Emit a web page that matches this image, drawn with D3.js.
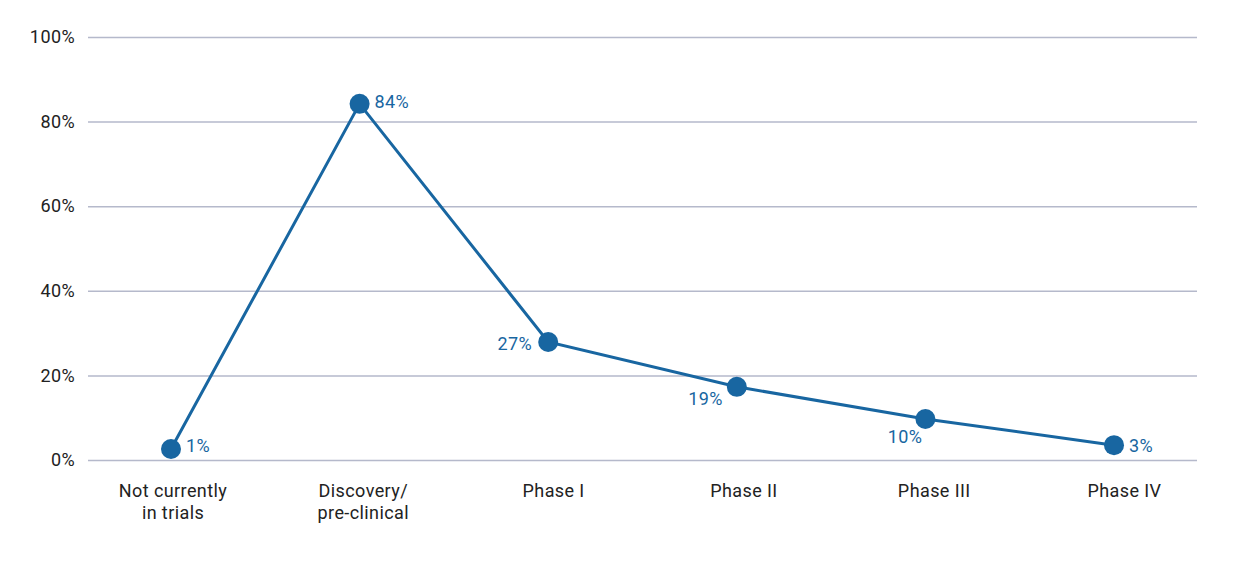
<!DOCTYPE html>
<html>
<head>
<meta charset="utf-8">
<script src="https://cdn.jsdelivr.net/npm/d3@7"></script>
<style>
  html, body { margin: 0; padding: 0; background: #fff; }
  svg { display: block; font-family: Roboto, "Noto Sans", sans-serif; }
  text { letter-spacing: 0.4px; }
</style>
</head>
<body>
<svg id="chart" width="1240" height="561"></svg>
<script>
const categories = ["Not currently\nin trials", "Discovery/\npre-clinical", "Phase I", "Phase II", "Phase III", "Phase IV"];
const values = [2.6, 84.2, 27.9, 17.3, 9.7, 3.5];
const labels = ["1%", "84%", "27%", "19%", "10%", "3%"];
const yTicks = [0, 20, 40, 60, 80, 100];

// label placement (layout, not data)
const labelLayout = [
  {dx: 15, dy: -3, anchor: "start"},
  {dx: 15, dy: -2, anchor: "start"},
  {dx: -16, dy: 2, anchor: "end"},
  {dx: -14, dy: 11.5, anchor: "end"},
  {dx: -3, dy: 18, anchor: "end"},
  {dx: 15, dy: 0, anchor: "start"}
];

const svg = d3.select("#chart");
const x = d3.scalePoint().domain(categories).range([88, 1197]).padding(0.44);
const xl = d3.scalePoint().domain(categories).range([172.5, 1124]);
const y = d3.scaleLinear().domain([0, 100]).range([460, 37]);

const lineColor = "#1866a1";
const fs = 18;

// gridlines
svg.append("g").selectAll("line").data(yTicks).join("line")
  .attr("x1", 88).attr("x2", 1197)
  .attr("y1", d => y(d) + 0.5).attr("y2", d => y(d) + 0.5)
  .attr("stroke", "#b5b9cb").attr("stroke-width", 1.5);

// y axis labels
const yAxis = d3.axisLeft(y).tickValues(yTicks).tickFormat(d => d + "%").tickSize(0).tickPadding(0);
const yg = svg.append("g").attr("transform", "translate(75,0)").call(yAxis);
yg.select(".domain").remove();
yg.selectAll("text").attr("font-size", fs).attr("fill", "#222").attr("font-family", "Roboto, sans-serif");

// x axis labels
const xAxis = d3.axisBottom(xl).tickSize(0).tickFormat("");
const xg = svg.append("g").attr("transform", "translate(0,460)").call(xAxis);
xg.select(".domain").remove();
xg.selectAll(".tick").each(function(d) {
  const t = d3.select(this).append("text")
    .attr("text-anchor", "middle").attr("font-size", fs).attr("fill", "#222")
    .attr("font-family", "Roboto, sans-serif");
  d.split("\n").forEach((ln, i) => {
    t.append("tspan").attr("x", 0).attr("y", 37 + i * 22).text(ln);
  });
});

// line
const data = categories.map((c, i) => ({c, v: values[i], l: labels[i], o: labelLayout[i]}));
svg.append("path").datum(data)
  .attr("fill", "none").attr("stroke", lineColor).attr("stroke-width", 3)
  .attr("d", d3.line().x(d => x(d.c)).y(d => y(d.v)));

svg.append("g").selectAll("circle").data(data).join("circle")
  .attr("cx", d => x(d.c)).attr("cy", d => y(d.v)).attr("r", 10)
  .attr("fill", lineColor);

svg.append("g").selectAll("text").data(data).join("text")
  .attr("font-size", fs).attr("fill", lineColor)
  .attr("x", d => x(d.c) + d.o.dx)
  .attr("y", d => y(d.v) + d.o.dy)
  .attr("dy", "0.36em")
  .attr("text-anchor", d => d.o.anchor)
  .text(d => d.l);
</script>
</body>
</html>
